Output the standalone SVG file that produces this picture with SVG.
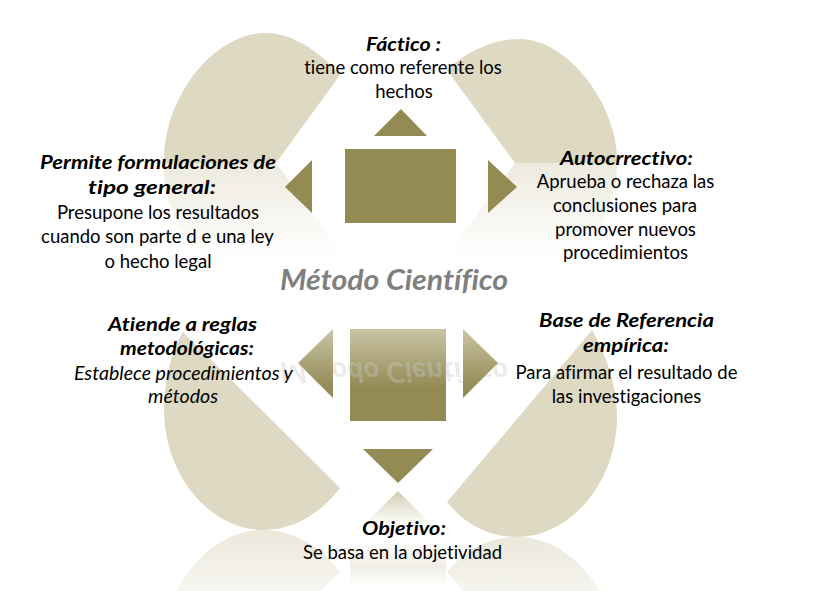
<svg xmlns="http://www.w3.org/2000/svg" width="816" height="591" viewBox="0 0 816 591">
  <style>
    .lobe { fill: #DDD9C3; }
    .olive { fill: #948A54; }
    .t { font-family: Lato, "Open Sans", "Liberation Sans", sans-serif; font-size: 18.5px; fill: #000000; text-anchor: middle; font-variant-ligatures: none; }
    .h { font-weight: bold; font-style: italic; }
    .i { font-style: italic; }
    .title { font-family: Lato, "Open Sans", "Liberation Sans", sans-serif; font-size: 28px; font-weight: bold; font-style: italic; text-anchor: middle; font-variant-ligatures: none; }
  </style>
  <defs>
    <linearGradient id="fadeUpper" gradientUnits="userSpaceOnUse" x1="0" y1="163" x2="0" y2="70">
      <stop offset="0" stop-color="#DDD9C3" stop-opacity="0.55"/>
      <stop offset="1" stop-color="#DDD9C3" stop-opacity="0"/>
    </linearGradient>
    <linearGradient id="fadeLowerL" gradientUnits="userSpaceOnUse" x1="0" y1="530" x2="0" y2="430">
      <stop offset="0" stop-color="#DDD9C3" stop-opacity="0.6"/>
      <stop offset="1" stop-color="#DDD9C3" stop-opacity="0"/>
    </linearGradient>
    <linearGradient id="fadeLowerR" gradientUnits="userSpaceOnUse" x1="0" y1="537" x2="0" y2="437">
      <stop offset="0" stop-color="#DDD9C3" stop-opacity="0.6"/>
      <stop offset="1" stop-color="#DDD9C3" stop-opacity="0"/>
    </linearGradient>
    <linearGradient id="oliveGrad" gradientUnits="userSpaceOnUse" x1="0" y1="329" x2="0" y2="388">
      <stop offset="0" stop-color="#C9C4A6"/>
      <stop offset="1" stop-color="#948A54"/>
    </linearGradient>
    <linearGradient id="triRefl" gradientUnits="userSpaceOnUse" x1="0" y1="491" x2="0" y2="528">
      <stop offset="0" stop-color="#C9C4A6" stop-opacity="0.9"/>
      <stop offset="1" stop-color="#DDD9C3" stop-opacity="0"/>
    </linearGradient>
    <linearGradient id="sqRefl" gradientUnits="userSpaceOnUse" x1="0" y1="540" x2="0" y2="585">
      <stop offset="0" stop-color="#E6E3D5" stop-opacity="0"/>
      <stop offset="0.6" stop-color="#E6E3D5" stop-opacity="0.6"/>
      <stop offset="1" stop-color="#E6E3D5" stop-opacity="0"/>
    </linearGradient>
    <path id="lobeUL" d="M340,75 C318,50 292,33 265,33 C215,33 164,95 164,160 L164,163 L276,163 Z"/>
    <path id="lobeUR" d="M447,70 C468,50 495,39 520,39 C568,39 617,105 617,160 L617,163 L515,163 Z"/>
    <path id="lobeLL" d="M183,332 C172,350 164,380 164,410 C164,475 210,530 263,530 C295,530 322,512 340,488 Z"/>
    <path id="lobeLR" d="M592,330 C606,355 617,385 617,417 C617,482 570,537 517,537 C490,537 465,525 447,502 Z"/>
  </defs>

  <g id="background">
    <use href="#lobeUL" class="lobe"/>
    <use href="#lobeUR" class="lobe"/>
    <use href="#lobeUL" fill="url(#fadeUpper)" transform="matrix(1,0,0,-1,0,326)"/>
    <use href="#lobeUR" fill="url(#fadeUpper)" transform="matrix(1,0,0,-1,0,326)"/>
    <use href="#lobeLL" class="lobe"/>
    <use href="#lobeLR" class="lobe"/>
    <use href="#lobeLL" fill="url(#fadeLowerL)" transform="matrix(1,0,0,-1,0,1060)"/>
    <use href="#lobeLR" fill="url(#fadeLowerR)" transform="matrix(1,0,0,-1,0,1074)"/>
    <rect x="350" y="540" width="96" height="45" fill="url(#sqRefl)"/>
    <polygon points="398,491 434,527 362,527" fill="url(#triRefl)"/>
  </g>

  <g id="node-center">
    <rect x="345" y="149" width="111" height="74" class="olive"/>
    <rect x="350" y="329" width="96" height="92" fill="url(#oliveGrad)"/>
    <text class="title" x="394" y="290" fill="#7F7F7F" textLength="228" lengthAdjust="spacingAndGlyphs">Método Científico</text>
    <text class="title" x="394" y="290" fill="#C8C8C8" fill-opacity="0.38" textLength="228" lengthAdjust="spacingAndGlyphs" transform="matrix(1,0,0,-1,0,652)">Método Científico</text>
  </g>

  <g id="connectors">
    <polygon points="374,136 427,136 401,109" class="olive"/>
    <polygon points="312,160 312,213 285,187" class="olive"/>
    <polygon points="488,160 488,213 517,187" class="olive"/>
    <polygon points="333,329 333,398 298,363" fill="url(#oliveGrad)"/>
    <polygon points="463,329 463,398 498,363" fill="url(#oliveGrad)"/>
    <polygon points="363,449 433,449 398,483" class="olive"/>
  </g>

  <g id="node-factico">
    <text class="t h" x="403.5" y="51" textLength="75" lengthAdjust="spacingAndGlyphs">Fáctico :</text>
    <text class="t" x="403" y="74">tiene como referente los</text>
    <text class="t" x="404" y="98">hechos</text>
  </g>

  <g id="node-general">
    <text class="t h" x="158" y="169" textLength="236" lengthAdjust="spacingAndGlyphs">Permite formulaciones de</text>
    <text class="t h" x="152" y="194" textLength="128" lengthAdjust="spacingAndGlyphs">tipo general:</text>
    <text class="t" x="158" y="219">Presupone los resultados</text>
    <text class="t" x="157.5" y="243">cuando son parte d e una ley</text>
    <text class="t" x="158" y="268">o hecho legal</text>
  </g>

  <g id="node-autocorrectivo">
    <text class="t h" x="626.5" y="165" textLength="133" lengthAdjust="spacingAndGlyphs">Autocrrectivo:</text>
    <text class="t" x="625.5" y="188">Aprueba o rechaza las</text>
    <text class="t" x="625" y="212">conclusiones para</text>
    <text class="t" x="625.5" y="236">promover nuevos</text>
    <text class="t" x="625.5" y="259">procedimientos</text>
  </g>

  <g id="node-reglas">
    <text class="t h" x="182.5" y="331" textLength="149" lengthAdjust="spacingAndGlyphs">Atiende a reglas</text>
    <text class="t h" x="187" y="355" textLength="134" lengthAdjust="spacingAndGlyphs">metodológicas:</text>
    <text class="t i" x="183.5" y="380" textLength="219" lengthAdjust="spacingAndGlyphs">Establece procedimientos y</text>
    <text class="t i" x="183" y="403" textLength="70" lengthAdjust="spacingAndGlyphs">métodos</text>
  </g>

  <g id="node-empirica">
    <text class="t h" x="626.5" y="327" textLength="175" lengthAdjust="spacingAndGlyphs">Base de Referencia</text>
    <text class="t h" x="626" y="352" textLength="86" lengthAdjust="spacingAndGlyphs">empírica:</text>
    <text class="t" x="626.5" y="379">Para afirmar el resultado de</text>
    <text class="t" x="626.5" y="403">las investigaciones</text>
  </g>

  <g id="node-objetivo">
    <text class="t h" x="404" y="535" textLength="84" lengthAdjust="spacingAndGlyphs">Objetivo:</text>
    <text class="t" x="402.5" y="559">Se basa en la objetividad</text>
  </g>
</svg>
